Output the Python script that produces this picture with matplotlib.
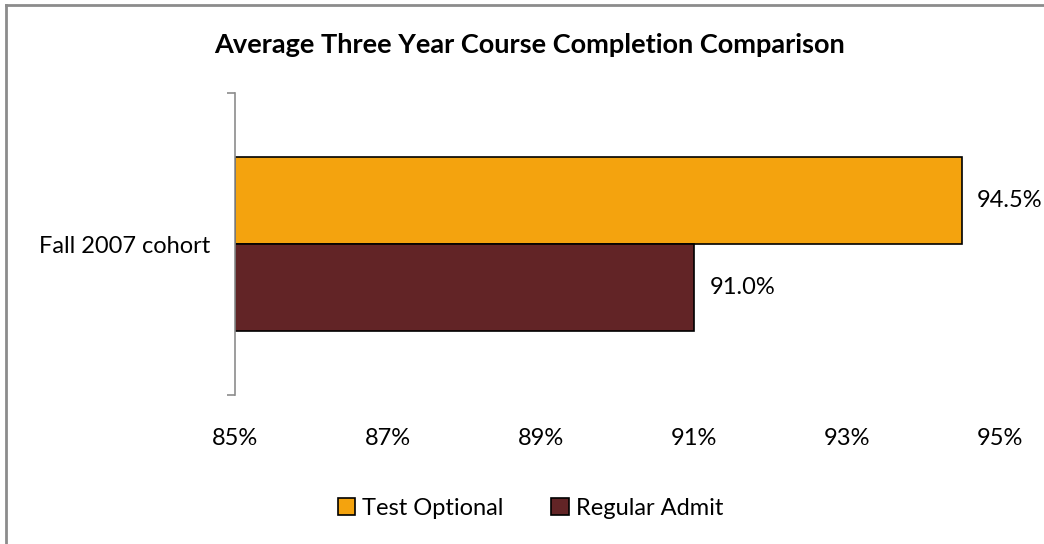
import matplotlib
matplotlib.use('Agg')
import matplotlib.pyplot as plt
from matplotlib.patches import Patch
from matplotlib.lines import Line2D

# chart data
category = 'Fall 2007 cohort'
series_names = ['Test Optional', 'Regular Admit']
values = [94.5, 91.0]
colors = ['#F4A30E', '#622426']
ticks = [85, 87, 89, 91, 93, 95]
tick_labels = ['85%', '87%', '89%', '91%', '93%', '95%']

plt.rcParams['font.family'] = ['Lato', 'DejaVu Sans']

fig = plt.figure(figsize=(10.44, 5.44), dpi=100)
ax = fig.add_axes([0.2251, 0.2739, 0.7328, 0.5551])

bar_h = 0.287
offsets = [bar_h / 2, -bar_h / 2]
for name, val, col, off in zip(series_names, values, colors, offsets):
    ax.barh(off, val - 85, left=85, height=bar_h, color=col,
            edgecolor='black', linewidth=1.2, label=name)
    ax.text(val + 0.2, off, f'{val:.1f}%', va='center', ha='left', fontsize=17)

ax.set_xlim(85, 95)
ax.set_ylim(-0.5, 0.5)
ax.set_xticks(ticks)
ax.set_xticklabels(tick_labels, fontsize=17)
ax.tick_params(axis='x', length=0, pad=24)

ax.set_yticks([-0.5, 0.5])
ax.set_yticklabels([])
ax.tick_params(axis='y', which='major', length=6, width=1.2, color='#8c8c8c', direction='out')
ax.set_yticks([0], labels=[category], minor=True)
ax.tick_params(axis='y', which='minor', length=0, pad=18, labelsize=17)

for s in ['top', 'right', 'bottom']:
    ax.spines[s].set_visible(False)
ax.spines['left'].set_color('#8c8c8c')
ax.spines['left'].set_linewidth(1.2)

fig.text(0.507, 0.917, 'Average Three Year Course Completion Comparison',
         ha='center', va='center', fontsize=19.5, fontweight='bold')

handles = [Patch(facecolor=c, edgecolor='black', linewidth=1.2) for c in colors]
fig.legend(handles, series_names, loc='center', bbox_to_anchor=(0.508, 0.066),
           ncol=2, frameon=False, fontsize=17, handlelength=0.75, handleheight=0.75,
           handletextpad=0.3, columnspacing=2.0)

# outer frame (top and left edges visible)
fig.add_artist(Line2D([0.0055, 0.0055], [0, 0.99], transform=fig.transFigure,
                      color='#8c8c8c', linewidth=2))
fig.add_artist(Line2D([0.0055, 1], [0.99, 0.99], transform=fig.transFigure,
                      color='#8c8c8c', linewidth=2))

fig.savefig('out.png', dpi=100)
